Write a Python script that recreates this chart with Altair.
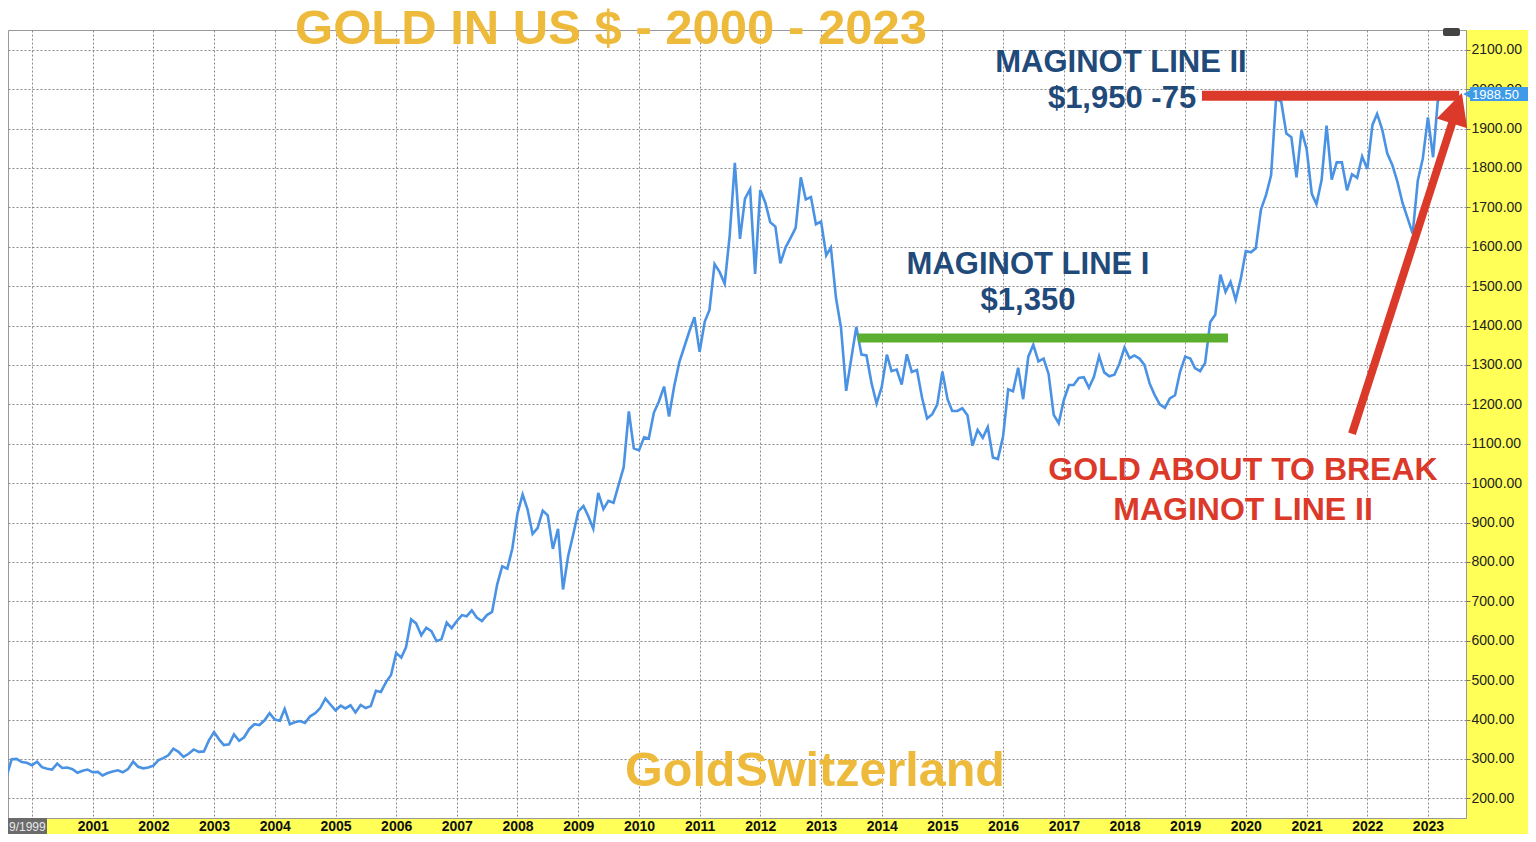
import altair as alt
import pandas as pd

# ---------------- data (monthly gold price, US$) ----------------
P1999 = [255, 299, 300, 292, 290]  # Aug-Dec
P2000 = [284, 293, 279, 275, 273, 288, 277, 278, 274, 265, 270, 273]
P2001 = [266, 267, 258, 264, 268, 271, 266, 274, 293, 280, 276, 278]
P2002 = [283, 297, 302, 309, 326, 318, 305, 313, 324, 318, 319, 347]
P2003 = [368, 349, 335, 337, 362, 346, 355, 376, 388, 386, 398, 416]
P2004 = [400, 397, 427, 388, 393, 396, 391, 408, 416, 429, 453, 438]
P2005 = [423, 435, 428, 436, 418, 437, 429, 434, 473, 470, 495, 513]
P2006 = [569, 557, 583, 654, 644, 614, 633, 624, 599, 604, 646, 632]
P2007 = [650, 665, 662, 677, 659, 650, 665, 673, 743, 789, 783, 834]
P2008 = [923, 971, 934, 871, 886, 930, 918, 833, 884, 730, 815, 869]
P2009 = [928, 942, 917, 884, 975, 934, 955, 950, 996, 1040, 1182, 1088]
P2010 = [1083, 1116, 1113, 1179, 1207, 1245, 1169, 1246, 1307, 1346, 1386, 1421]
P2011 = [1333, 1410, 1439, 1556, 1536, 1506, 1628, 1813, 1620, 1722, 1746, 1531]
P2012 = [1744, 1711, 1662, 1651, 1558, 1598, 1622, 1648, 1776, 1720, 1726, 1657]
P2013 = [1664, 1578, 1598, 1469, 1394, 1234, 1314, 1396, 1326, 1324, 1253, 1202]
P2014 = [1244, 1326, 1284, 1288, 1250, 1327, 1282, 1287, 1216, 1164, 1175, 1199]
P2015 = [1283, 1213, 1183, 1183, 1190, 1172, 1095, 1135, 1115, 1142, 1065, 1061]
P2016 = [1118, 1238, 1233, 1293, 1213, 1321, 1351, 1309, 1316, 1277, 1173, 1152]
P2017 = [1211, 1249, 1249, 1267, 1269, 1242, 1270, 1322, 1281, 1271, 1275, 1303]
P2018 = [1344, 1317, 1324, 1316, 1300, 1253, 1224, 1200, 1191, 1215, 1223, 1282]
P2019 = [1321, 1316, 1292, 1284, 1305, 1409, 1427, 1529, 1485, 1511, 1465, 1517]
P2020 = [1589, 1586, 1596, 1694, 1730, 1781, 1975, 1968, 1887, 1878, 1776, 1895]
P2021 = [1848, 1734, 1708, 1769, 1907, 1770, 1814, 1814, 1743, 1784, 1775, 1829]
P2022 = [1797, 1909, 1937, 1897, 1837, 1807, 1765, 1711, 1672, 1633, 1768, 1824]
P2023 = [1928, 1827, 1969, 1988.5]  # Jan-Apr

YEAR_SERIES = [
    (1999, 8, P1999), (2000, 1, P2000), (2001, 1, P2001), (2002, 1, P2002),
    (2003, 1, P2003), (2004, 1, P2004), (2005, 1, P2005), (2006, 1, P2006),
    (2007, 1, P2007), (2008, 1, P2008), (2009, 1, P2009), (2010, 1, P2010),
    (2011, 1, P2011), (2012, 1, P2012), (2013, 1, P2013), (2014, 1, P2014),
    (2015, 1, P2015), (2016, 1, P2016), (2017, 1, P2017), (2018, 1, P2018),
    (2019, 1, P2019), (2020, 1, P2020), (2021, 1, P2021), (2022, 1, P2022),
    (2023, 1, P2023),
]

Y_TICKS = list(range(200, 2101, 100))
X_YEARS = list(range(2000, 2024))

LAST_PRICE = "1988.50"

# annotation lines (date, value) pairs
GREEN_LINE = {"x": ["2013-08-12"], "x2": ["2019-09-16"], "y": [1368]}
RED_LINE = {"x": ["2019-04-12"], "x2": ["2023-07-08"], "y": [1983]}
RED_ARROW = {"x": ["2021-10-01"], "x2": ["2023-06-17"], "y": [1125], "y2": [1942]}

# ---------------- styles ----------------
BLUE = "#4A92E4"
GOLD = "#EDBA3C"
NAVY = "#1F4A7A"
RED = "#DB3A2A"
GREEN = "#5CAF2E"
YELLOW = "#FFFF57"
FONT = "Liberation Sans"
W, H = 1458, 788

dates, prices = [], []
for yr, m0, vals in YEAR_SERIES:
    for i, v in enumerate(vals):
        dates.append(f"{yr}-{m0 + i:02d}-01")
        prices.append(v)
df = pd.DataFrame({"date": dates, "price": prices})

x_scale = alt.Scale(domain=[alt.DateTime(year=1999, month=8, date=10),
                            alt.DateTime(year=2023, month=8, date=18)])
y_scale = alt.Scale(domain=[150, 2150], nice=False, zero=False)

x_axis = alt.Axis(
    values=[alt.DateTime(year=y, month=1, date=1) for y in X_YEARS],
    format="%Y",
    labelExpr="datum.label == '2000' ? '' : datum.label",
    labelFont=FONT, labelFontSize=14, labelFontWeight="bold", labelColor="#111",
    labelPadding=1, ticks=False, domain=False,
    grid=True, gridColor="#8a8a8a", gridDash=[2, 2], gridWidth=1,
    title=None,
)
y_axis = alt.Axis(
    orient="right", values=Y_TICKS, format=".2f",
    labelFont=FONT, labelFontSize=14, labelColor="#222", labelPadding=1,
    ticks=True, tickSize=4, tickColor="#777", domain=False,
    grid=True, gridColor="#8a8a8a", gridDash=[2, 2], gridWidth=1,
    title=None,
)

one = pd.DataFrame({"k": [0]})

# white band above the plot area
top_band = alt.Chart(one).mark_rect(color="white").encode(
    x=alt.value(-10), x2=alt.value(W + 100), y=alt.value(-40), y2=alt.value(0)
)

line = alt.Chart(df).mark_line(color=BLUE, strokeWidth=2.6, clip=True).encode(
    x=alt.X("date:T", scale=x_scale, axis=x_axis, title=None),
    y=alt.Y("price:Q", scale=y_scale, axis=y_axis, title=None),
)

green = alt.Chart(pd.DataFrame(GREEN_LINE)).mark_rule(
    color=GREEN, strokeWidth=9, strokeCap="butt").encode(
    x="x:T", x2="x2:T", y="y:Q")

red_h = alt.Chart(pd.DataFrame(RED_LINE)).mark_rule(
    color=RED, strokeWidth=10, strokeCap="butt").encode(
    x="x:T", x2="x2:T", y="y:Q")

red_d = alt.Chart(pd.DataFrame(RED_ARROW)).mark_rule(
    color=RED, strokeWidth=8, strokeCap="butt").encode(
    x="x:T", x2="x2:T", y="y:Q", y2="y2:Q")

red_head = alt.Chart(pd.DataFrame(RED_ARROW)).mark_point(
    shape="M0,-1L0.8,0.6L-0.8,0.6Z", filled=True, color=RED, opacity=1,
    size=1600, angle=18, strokeWidth=0).encode(x="x2:T", y="y2:Q")


def label(text, px, py, size, color, weight="bold"):
    return alt.Chart(pd.DataFrame({"t": [text]})).mark_text(
        font=FONT, fontSize=size, fontWeight=weight, color=color,
        align="center", baseline="middle").encode(
        text="t:N", x=alt.value(px), y=alt.value(py))


texts = [
    label("GOLD IN US $ - 2000 - 2023", 603, -1, 49, GOLD),
    label("GoldSwitzerland", 807, 741, 48.5, GOLD),
    label("MAGINOT LINE II", 1113, 33, 31, NAVY),
    label("$1,950 -75", 1114, 69, 31, NAVY),
    label("MAGINOT LINE I", 1020, 235, 31, NAVY),
    label("$1,350", 1020, 271, 31, NAVY),
    label("GOLD ABOUT TO BREAK", 1235, 440, 32, RED),
    label("MAGINOT LINE II", 1235, 480, 32, RED),
]

# last-price tag on the right axis
tag_rect = alt.Chart(one).mark_rect(color="#3E9BEA").encode(
    x=alt.value(W + 4), x2=alt.value(W + 70), y=alt.value(57), y2=alt.value(71))
tag_tip = alt.Chart(one).mark_point(
    shape="triangle-left", filled=True, color="#3E9BEA", opacity=1, size=120).encode(
    x=alt.value(W + 2), y=alt.value(64))
tag_text = alt.Chart(pd.DataFrame({"t": [LAST_PRICE]})).mark_text(
    font=FONT, fontSize=13, color="white", align="left", baseline="middle").encode(
    text="t:N", x=alt.value(W + 6), y=alt.value(64.5))

# small icon top right and start-date box bottom left
icon = alt.Chart(one).mark_rect(color="#444", cornerRadius=2).encode(
    x=alt.value(1435), x2=alt.value(1452), y=alt.value(-2), y2=alt.value(6))
start_box = alt.Chart(one).mark_rect(color="#6b6b6b").encode(
    x=alt.value(0), x2=alt.value(39), y=alt.value(H), y2=alt.value(H + 18))
start_text = alt.Chart(pd.DataFrame({"t": ["9/1999"]})).mark_text(
    font=FONT, fontSize=12, color="#e8e8e8", align="left", baseline="middle").encode(
    text="t:N", x=alt.value(1), y=alt.value(H + 8.5))

chart = alt.layer(
    top_band, line, green, red_h, red_d, red_head, *texts,
    tag_rect, tag_tip, tag_text, icon, start_box, start_text,
).properties(
    width=W, height=H,
    autosize=alt.AutoSizeParams(type="none"),
    padding={"left": 0, "top": 22, "right": 62, "bottom": 16},
    background=YELLOW,
).configure_view(fill="white", stroke="#9a9a9a", strokeWidth=1)

chart.save("out.html", embed_options={"renderer": "svg", "actions": False})
